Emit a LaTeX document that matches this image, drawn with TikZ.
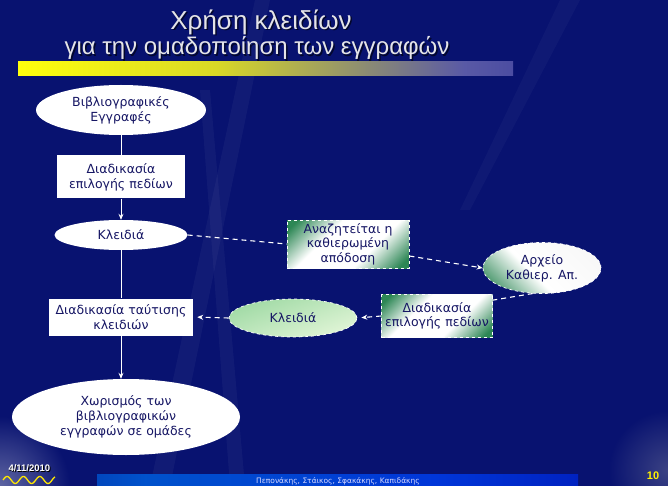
\documentclass[tikz,border=0pt]{standalone}
\usepackage{fontspec}
\setmainfont{DejaVu Sans}
\newfontfamily\titlefont{Liberation Sans}
\usetikzlibrary{shapes.geometric,arrows.meta}
\definecolor{bgnavy}{RGB}{8,18,112}
\definecolor{txtnavy}{RGB}{22,22,100}
\definecolor{boxgreen}{RGB}{45,135,85}
\definecolor{mintA}{RGB}{160,218,165}
\definecolor{mintB}{RGB}{225,245,215}
\definecolor{titlegray}{RGB}{228,228,232}
\pgfdeclarehorizontalshading{titlebar}{100bp}{color(0bp)=(yellow); color(25bp)=(yellow!95!white); color(45bp)=(yellow!70!gray); color(70bp)=(gray!70!blue); color(100bp)=(bgnavy!80!blue)}
\pgfdeclarehorizontalshading{footbar}{100bp}{color(0bp)=(bgnavy); color(30bp)=(blue!60!cyan!80!black); color(60bp)=(blue!75!cyan!85!black); color(100bp)=(blue!60!black)}
\pgfdeclareverticalshading{gshade}{100bp}{color(0bp)=(boxgreen); color(19bp)=(boxgreen); color(38bp)=(white); color(62bp)=(white); color(81bp)=(boxgreen); color(100bp)=(boxgreen)}
\pgfdeclareverticalshading{eshade}{100bp}{color(0bp)=(boxgreen!85); color(22bp)=(boxgreen!85); color(44bp)=(white); color(100bp)=(white!90!gray)}
\tikzset{
  wbase/.style={fill=white, text=txtnavy, font=\fontsize{12.5}{15}\selectfont, align=center, inner sep=0pt},
  wellipse/.style={wbase, ellipse},
  wrect/.style={wbase, rectangle},
  gbox/.style={rectangle, draw=white, dashed, line width=0.7pt, text=txtnavy, font=\fontsize{12.5}{14.5}\selectfont, align=center, inner sep=0pt, shading=gshade, shading angle=45},
  gellipse/.style={ellipse, draw=white, dashed, line width=0.7pt, text=txtnavy, font=\fontsize{12.5}{15}\selectfont, align=center, inner sep=0pt},
  flow/.style={white, line width=0.9pt},
  dline/.style={white, line width=1.1pt, dash pattern=on 5pt off 4pt},
  tipend/.style={-{Stealth[length=6pt,width=5pt]}}
}
\begin{document}
\begin{tikzpicture}[x=1pt,y=-1pt]
\useasboundingbox (0,0) rectangle (668,486);
% background
\fill[bgnavy] (0,0) rectangle (668,486);
\shade[inner color=white, outer color=bgnavy, opacity=0.35] (0,486) circle (70);
\shade[inner color=gray!60, outer color=bgnavy, opacity=0.3] (668,470) circle (60);
\fill[white, opacity=0.04] (150,486) -- (170,486) -- (270,0) -- (255,0) -- cycle;
\fill[white, opacity=0.04] (230,486) -- (245,486) -- (210,90) -- (200,90) -- cycle;
\fill[white, opacity=0.03] (560,0) -- (580,0) -- (470,210) -- (460,210) -- cycle;
% title
\node[text=black, opacity=0.6, font=\titlefont\fontsize{26}{28}\selectfont] (t1s) at (262.5,23.5) {Χρήση κλειδίων};
\node[text=titlegray, font=\titlefont\fontsize{26}{28}\selectfont] (t1) at (261,22) {Χρήση κλειδίων};
\node[text=black, opacity=0.6, font=\titlefont\fontsize{24}{26}\selectfont] (t2s) at (258.5,49.5) {για την ομαδοποίηση των εγγραφών};
\node[text=titlegray, font=\titlefont\fontsize{24}{26}\selectfont] (t2) at (257,48) {για την ομαδοποίηση των εγγραφών};
\shade[shading=titlebar] (18,62) rectangle (513,76);
% footer
\shade[shading=footbar] (97,474) rectangle (578,486);
\node[text=blue!15!white, font=\fontsize{7.5}{8}\selectfont] (authors) at (338,481) {Πεπονάκης, Στάικος, Σφακάκης, Καπιδάκης};
\node[text=black, font=\titlefont\bfseries\fontsize{9.5}{10}\selectfont, anchor=west] (dates) at (5.8,468.8) {4/11/2010};
\node[text=white, font=\titlefont\bfseries\fontsize{9.5}{10}\selectfont, anchor=west] (date) at (5,468) {4/11/2010};
\draw[yellow!90!orange, line width=1.3pt] plot[domain=3:55, samples=80] (\x, {480 - 3.5*sin((\x-3)*22)});
\node[text=yellow, font=\titlefont\bfseries\fontsize{11}{12}\selectfont] (pg) at (653,476) {10};
% left column
\node[wellipse, minimum width=170, minimum height=50] (e1) at (121,110) {Βιβλιογραφικές\\Εγγραφές};
\node[wrect, minimum width=128, minimum height=43] (r2) at (121,177) {Διαδικασία\\επιλογής πεδίων};
\node[wellipse, minimum width=133, minimum height=30] (e3) at (121,235) {Κλειδιά};
\node[wrect, minimum width=144, minimum height=37] (r4) at (121,317) {Διαδικασία ταύτισης\\κλειδιών};
\node[wellipse, minimum width=228, minimum height=76] (e5) at (126,417) {Χωρισμός των\\βιβλιογραφικών\\εγγραφών σε ομάδες};
% right part
\node[gbox, minimum width=122, minimum height=48] (r6) at (348,244) {Αναζητείται η\\καθιερωμένη\\απόδοση};
\node[gellipse, minimum width=118, minimum height=51, shading=eshade, shading angle=-45] (e7) at (542,268) {Αρχείο\\Καθιερ. Απ.};
\node[gbox, minimum width=111, minimum height=43] (r8) at (437,316) {Διαδικασία\\επιλογής πεδίων};
\node[gellipse, minimum width=128, minimum height=38, top color=mintA, bottom color=mintB, shading angle=20] (e9) at (293,318) {Κλειδιά};
% connectors
\draw[flow] (e1) -- (r2);
\draw[flow, tipend] (r2) -- (e3);
\draw[flow] (e3) -- (r4);
\draw[flow, tipend] (r4.south) -- (r4.south |- e5.north);
\draw[dline] (e3.east) -- (r6.west);
\draw[dline, tipend] ([yshift=-12pt]r6.east) -- (e7.west);
\draw[dline] (e7.250) -- ([yshift=-6pt]r8.north east);
\draw[dline, tipend, shorten >=4pt] (r8.west) -- (e9.east);
\draw[dline, tipend, shorten >=4pt] (e9.west) -- (r4.east);
\end{tikzpicture}
\end{document}
